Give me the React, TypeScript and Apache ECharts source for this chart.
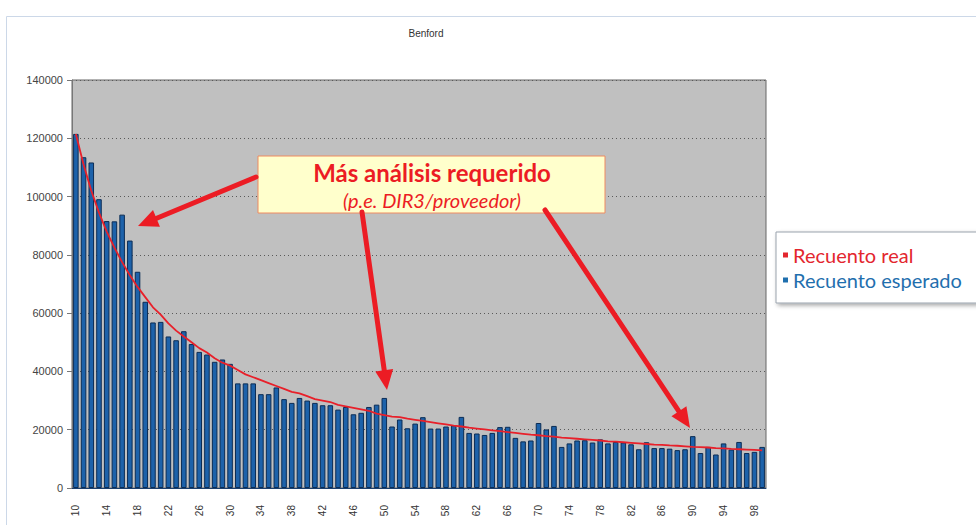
import React, { useEffect, useRef } from "react";
import * as echarts from "echarts";

const categories = [
  "10","11","12","13","14","15","16","17","18","19",
  "20","21","22","23","24","25","26","27","28","29",
  "30","31","32","33","34","35","36","37","38","39",
  "40","41","42","43","44","45","46","47","48","49",
  "50","51","52","53","54","55","56","57","58","59",
  "60","61","62","63","64","65","66","67","68","69",
  "70","71","72","73","74","75","76","77","78","79",
  "80","81","82","83","84","85","86","87","88","89",
  "90","91","92","93","94","95","96","97","98","99",
];

// red line (Recuento real)
const recuentoReal = [
  121500, 111000, 102000, 94500, 88000, 82500, 77500, 73000, 69000, 65500,
  62000, 59500, 56500, 54000, 52000, 50000, 48000, 46500, 44500, 43000,
  42000, 40500, 39000, 38000, 37000, 36000, 35000, 34000, 33000, 32500,
  31500, 30500, 30000, 29500, 28500, 28000, 27500, 27000, 26500, 25500,
  25000, 24500, 24300, 23800, 23400, 23000, 22600, 22200, 21800, 21400,
  21100, 20700, 20400, 20100, 19800, 19500, 19200, 18900, 18600, 18300,
  18100, 17800, 17600, 17300, 17100, 16900, 16700, 16500, 16300, 16000,
  15900, 15700, 15500, 15300, 15100, 14900, 14800, 14600, 14500, 14300,
  14100, 14000, 13900, 13700, 13600, 13400, 13300, 13200, 13100, 12900,
];

// blue bars (Recuento esperado)
const recuentoEsperado = [
  121500, 113500, 111700, 99100, 91600, 91500, 93800, 84900, 74200, 63900,
  56800, 57000, 52000, 50700, 53800, 49400, 46700, 45800, 43300, 44100,
  42600, 35900, 35900, 35900, 32200, 32200, 34500, 30500, 29200, 30900,
  30000, 29200, 28400, 28400, 26900, 27800, 25300, 25800, 27800, 28600,
  30900, 21100, 23500, 20500, 22100, 24300, 20400, 20400, 21100, 21500,
  24400, 18900, 18700, 18200, 18900, 20900, 21000, 17200, 16000, 16300,
  22300, 20100, 21300, 14100, 15300, 16300, 16400, 15600, 16700, 15300,
  15800, 15600, 15000, 13300, 15700, 13700, 13700, 13500, 13000, 13300,
  17800, 12000, 14100, 11500, 15300, 13200, 15800, 12000, 12400, 14100,
];

const RED = "#ec1c24";

function arrow(x1: number, y1: number, x2: number, y2: number) {
  const dx = x2 - x1, dy = y2 - y1;
  const L = Math.hypot(dx, dy);
  const ux = dx / L, uy = dy / L;
  const hl = 20, hw = 9;
  const bx = x2 - ux * hl, by = y2 - uy * hl;
  return [
    {
      type: "line",
      z: 100,
      shape: { x1, y1, x2: bx + ux * 3, y2: by + uy * 3 },
      style: { stroke: RED, lineWidth: 5, lineCap: "round" },
    },
    {
      type: "polygon",
      z: 100,
      shape: {
        points: [
          [x2, y2],
          [bx - uy * hw, by + ux * hw],
          [bx + uy * hw, by - ux * hw],
        ],
      },
      style: { fill: RED },
    },
  ];
}

export default function App() {
  const ref = useRef<HTMLDivElement>(null);
  useEffect(() => {
    if (!ref.current) return;
    const chart = echarts.init(ref.current, undefined, { renderer: "svg" });
    chart.setOption({
      animation: false,
      backgroundColor: "#ffffff",
      title: {
        text: "Benford",
        left: 421,
        top: 23,
        textAlign: "center",
        textStyle: {
          fontSize: 10,
          fontWeight: "normal",
          color: "#333",
          fontFamily: "Liberation Sans",
        },
      },
      legend: {
        left: 776,
        top: 232,
        orient: "vertical",
        icon: "rect",
        itemWidth: 5,
        itemHeight: 5,
        itemGap: 5,
        padding: [13, 40, 13, 7],
        backgroundColor: "#ffffff",
        borderColor: "#9aa3ad",
        borderWidth: 1,
        shadowBlur: 4,
        shadowColor: "rgba(0,0,0,0.35)",
        shadowOffsetX: 2,
        shadowOffsetY: 2,
        itemStyle: { borderWidth: 0 },
        lineStyle: { width: 0 },
        textStyle: { fontFamily: "Lato", fontSize: 20 },
        data: [
          {
            name: "Recuento real",
            icon: "rect",
            itemStyle: { color: "#e3262e", borderWidth: 0 },
            textStyle: { color: "#e3262e" },
          },
          {
            name: "Recuento esperado",
            icon: "rect",
            itemStyle: { color: "#1f6fae", borderWidth: 0 },
            textStyle: { color: "#1f6fae" },
          },
        ],
      },
      grid: {
        left: 72,
        right: 210,
        top: 80,
        bottom: 37,
        show: true,
        backgroundColor: "#c0c0c0",
        borderColor: "#666",
        borderWidth: 1,
      },
      xAxis: {
        type: "category",
        data: categories,
        boundaryGap: true,
        axisLine: { show: true, lineStyle: { color: "#1a3f6e", width: 1 } },
        axisTick: { show: false },
        axisLabel: {
          interval: 3,
          rotate: 90,
          fontSize: 10,
          margin: 17,
          color: "#333",
          fontFamily: "Liberation Sans",
        },
      },
      yAxis: {
        type: "value",
        min: 0,
        max: 140000,
        interval: 20000,
        axisLine: { show: true, lineStyle: { color: "#777" } },
        axisTick: { show: true, length: 5, lineStyle: { color: "#777" } },
        axisLabel: {
          fontSize: 11,
          color: "#444",
          margin: 9,
          fontFamily: "Liberation Sans",
          formatter: (v: number) => String(v),
        },
        splitLine: {
          show: true,
          lineStyle: { color: "#5a5a5a", type: [1, 3], width: 1 },
        },
      },
      series: [
        {
          name: "Recuento esperado",
          type: "bar",
          data: recuentoEsperado,
          barCategoryGap: "28%",
          itemStyle: {
            color: "#1d62aa",
            borderColor: "#0c2d55",
            borderWidth: 1,
          },
        },
        {
          name: "Recuento real",
          type: "line",
          data: recuentoReal,
          showSymbol: false,
          symbol: "none",
          lineStyle: { color: "#e8202a", width: 1.8 },
          itemStyle: { color: "#e3262e" },
        },
      ],
      graphic: [
        {
          type: "rect",
          left: 4,
          top: 14,
          z: 0,
          silent: true,
          shape: { width: 1000, height: 600 },
          style: { fill: "none", stroke: "#ccd8e8", lineWidth: 1 },
        },
        {
          type: "rect",
          z: 90,
          shape: { x: 258, y: 156, width: 347, height: 57 },
          style: { fill: "#ffffcc", stroke: "#ef8a60", lineWidth: 1 },
        },
        {
          type: "text",
          z: 95,
          x: 432,
          y: 172,
          style: {
            text: "Más análisis requerido",
            fill: RED,
            font: "bold 24px Lato",
            align: "center",
            verticalAlign: "middle",
          },
        },
        {
          type: "text",
          z: 95,
          x: 432,
          y: 200,
          style: {
            text: "(p.e. DIR3/proveedor)",
            fill: RED,
            font: "italic 20px Lato",
            align: "center",
            verticalAlign: "middle",
          },
        },
        ...arrow(256, 177, 138, 226),
        ...arrow(362, 212, 387, 390),
        ...arrow(545, 210, 690, 428),
      ],
    });
    return () => chart.dispose();
  }, []);
  return (
    <div
      ref={ref}
      style={{ position: "fixed", left: 0, top: 0, width: 976, height: 525 }}
    />
  );
}
